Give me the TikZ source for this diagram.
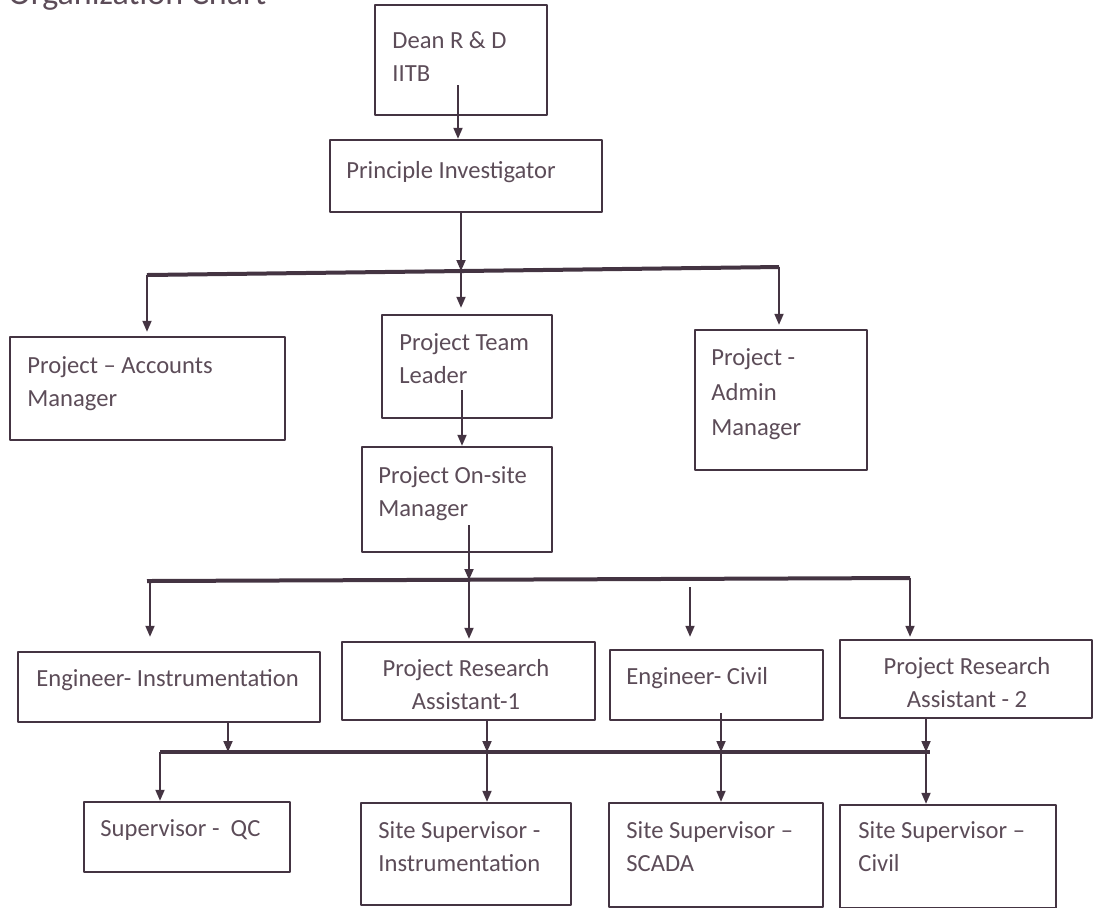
\documentclass[tikz,border=0pt]{standalone}
\usepackage{fontspec}
\setmainfont{Carlito}
\usetikzlibrary{arrows.meta}

\definecolor{ink}{RGB}{68,52,66}
\definecolor{inktext}{RGB}{92,76,88}

\tikzset{
  box/.style={draw=ink, line width=1.2pt, inner sep=0pt},
  txt/.style={anchor=base west, align=left, inner sep=0pt, text=inktext,
    font=\fontsize{12.3}{16.5}\selectfont},
  ctxt/.style={txt, anchor=base, align=center},
  arr/.style={draw=ink, line width=0.9pt, -{Triangle[length=5.5pt,width=4.5pt]}},
  bus/.style={draw=ink, line width=2pt},
}

\begin{document}
\begin{tikzpicture}[x=0.5pt, y=-0.5pt, line join=round]
  \useasboundingbox (0,0) rectangle (1095,907);

  % title, cut by the top edge
  \node[txt, font=\fontsize{17}{20}\selectfont] (title) at (8,4) {Organization Chart};

  % boxes
  \node[box, minimum width=86pt, minimum height=55pt] (dean) at (461,60) {};
  \node[box, minimum width=136pt, minimum height=36pt] (pi) at (466,176) {};
  \node[box, minimum width=137.5pt, minimum height=51.5pt] (acc) at (147.5,388.5) {};
  \node[box, minimum width=85pt, minimum height=51.5pt] (ptl) at (467,366.5) {};
  \node[box, minimum width=86pt, minimum height=70pt] (adm) at (781,400) {};
  \node[box, minimum width=95pt, minimum height=52.5pt] (ons) at (457,499.5) {};
  \node[box, minimum width=151pt, minimum height=35pt] (ei) at (169,687) {};
  \node[box, minimum width=126.5pt, minimum height=39pt] (pra1) at (468.5,681) {};
  \node[box, minimum width=106.5pt, minimum height=35pt] (ec) at (716.5,685) {};
  \node[box, minimum width=126pt, minimum height=39pt] (pra2) at (966,679) {};
  \node[box, minimum width=103pt, minimum height=35pt] (qc) at (187,837) {};
  \node[box, minimum width=105pt, minimum height=51pt] (ssi) at (466,854) {};
  \node[box, minimum width=107pt, minimum height=52pt] (sss) at (716,855) {};
  \node[box, minimum width=108pt, minimum height=51.5pt] (ssc) at (948,856.5) {};

  % texts (base = last line)
  \node[txt] (deant) at (392,81) {Dean R \& D\\IITB};
  \node[txt] (pit) at (346,178) {Principle Investigator};
  \node[txt] (acct) at (27,406) {Project -- Accounts\\Manager};
  \node[txt] (ptlt) at (399,383) {Project Team\\Leader};
  \node[txt, font=\fontsize{12.3}{17.3}\selectfont] (admt) at (711,435) {Project -\\Admin\\Manager};
  \node[txt] (onst) at (378,516) {Project On-site\\Manager};
  \node[txt] (eit) at (36,686) {Engineer- Instrumentation};
  \node[ctxt] (pra1t) at (466,709) {Project Research\\Assistant-1};
  \node[txt] (ect) at (626,684) {Engineer- Civil};
  \node[ctxt] (pra2t) at (967,707) {Project Research\\Assistant - 2};
  \node[txt] (qct) at (100,836) {Supervisor -\ \ QC};
  \node[txt] (ssit) at (378,871) {Site Supervisor -\\Instrumentation};
  \node[txt] (ssst) at (626,871) {Site Supervisor --\\SCADA};
  \node[txt] (ssct) at (858,871) {Site Supervisor --\\Civil};

  % bus points
  \coordinate (d1) at (458,85);
  \coordinate (b1l) at (147,275);
  \coordinate (b1m) at (461,271);
  \coordinate (b1r) at (779,267);
  \coordinate (t1) at (462,390);
  \coordinate (o1) at (469,525);
  \coordinate (b2l) at (150,581);
  \coordinate (b2m) at (469,580);
  \coordinate (b2c) at (690,587);
  \coordinate (b2r) at (910,578);
  \coordinate (c1) at (721,713);
  \coordinate (b3l) at (160,752);
  \coordinate (b3a) at (228,752);
  \coordinate (b3b) at (487,752);
  \coordinate (b3c) at (721,752);
  \coordinate (b3d) at (926,752);

  % top levels
  \draw[arr] (d1) -- (d1 |- pi.north);
  \draw[arr] (pi.south -| b1m) -- (b1m);
  \draw[bus] (b1l) -- (b1r);
  \draw[arr, shorten >=2pt] (b1l) -- (b1l |- acc.north);
  \draw[arr, shorten >=3pt] (b1m) -- (b1m |- ptl.north);
  \draw[arr, shorten >=2pt] (b1r) -- (b1r |- adm.north);
  \draw[arr] (t1) -- (t1 |- ons.north);

  % second bus
  \draw[arr] (o1) -- (b2m);
  \draw[bus] (147,581) -- (b2r);
  \draw[arr, shorten >=7pt] (b2l) -- (b2l |- ei.north);
  \draw[arr, shorten >=1pt] (b2m) -- (b2m |- pra1.north);
  \draw[arr, shorten >=6pt] (b2c) -- (b2c |- ec.north);
  \draw[arr, shorten >=1pt] (b2r) -- (b2r |- pra2.north);

  % third bus
  \draw[bus] (b3l) -- (930,752);
  \draw[arr] (ei.south -| b3a) -- (b3a);
  \draw[arr] (pra1.south -| b3b) -- (b3b);
  \draw[arr] (c1) -- (b3c);
  \draw[arr] (pra2.south -| b3d) -- (b3d);
  \draw[arr] (b3l) -- (b3l |- qc.north);
  \draw[arr] (b3b) -- (b3b |- ssi.north);
  \draw[arr] (b3c) -- (b3c |- sss.north);
  \draw[arr] (b3d) -- (b3d |- ssc.north);
\end{tikzpicture}
\end{document}
